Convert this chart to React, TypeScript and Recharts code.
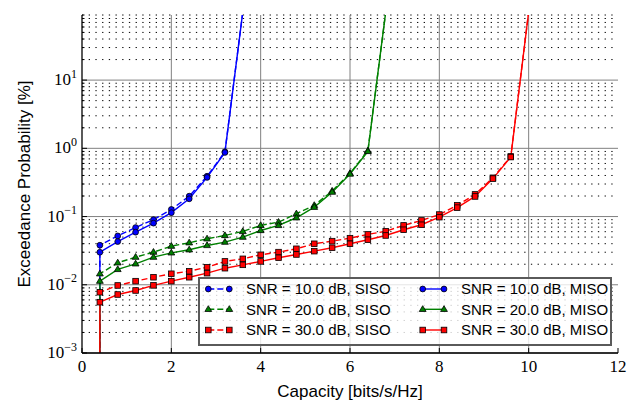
import React from 'react';
import { ComposedChart, Line, XAxis, YAxis, CartesianGrid, Legend } from 'recharts';

// Capacity grid [bits/s/Hz]
const capacity = [0, 0.4, 0.8, 1.2, 1.6, 2.0, 2.4, 2.8, 3.2, 3.6, 4.0, 4.4, 4.8, 5.2, 5.6, 6.0, 6.4, 6.8, 7.2, 7.6, 8.0, 8.4, 8.8, 9.2, 9.6, 10.0];

// Exceedance probability [%]
const sisoSnr10 = [0, 0.038, 0.052, 0.069, 0.09, 0.127, 0.199, 0.39, 0.89, 100];
const misoSnr10 = [0, 0.030, 0.043, 0.059, 0.080, 0.114, 0.182, 0.375, 0.87, 100];
const sisoSnr20 = [0, 0.0145, 0.021, 0.0254, 0.0301, 0.0368, 0.0413, 0.0472, 0.0528, 0.0605, 0.0741, 0.0828, 0.110, 0.146, 0.237, 0.43, 0.92, 100];
const misoSnr20 = [0, 0.0113, 0.0168, 0.0203, 0.0254, 0.0294, 0.0326, 0.0377, 0.0422, 0.0499, 0.0625, 0.0741, 0.096, 0.137, 0.228, 0.42, 0.90, 100];
const sisoSnr30 = [0, 0.00778, 0.00977, 0.0113, 0.0129, 0.0145, 0.0158, 0.0181, 0.0220, 0.0240, 0.0275, 0.0301, 0.0337, 0.0399, 0.0436, 0.0482, 0.0547, 0.061, 0.0741, 0.0877, 0.107, 0.146, 0.211, 0.37, 0.76, 100];
const misoSnr30 = [0, 0.00556, 0.0072, 0.00825, 0.0098, 0.0113, 0.0129, 0.0148, 0.0175, 0.0196, 0.0220, 0.0249, 0.0278, 0.0311, 0.0349, 0.0399, 0.0457, 0.0528, 0.064, 0.0758, 0.098, 0.135, 0.197, 0.36, 0.745, 100];

const seriesNames = [
  'SNR = 10.0 dB, SISO',
  'SNR = 20.0 dB, SISO',
  'SNR = 30.0 dB, SISO',
  'SNR = 10.0 dB, MISO',
  'SNR = 20.0 dB, MISO',
  'SNR = 30.0 dB, MISO',
];

const xTicks = [0, 2, 4, 6, 8, 10, 12];
const xGrid = [2, 4, 6, 8, 10];
const yMajorTicks = [0.001, 0.01, 0.1, 1, 10];
const yMinorTicks = [
  0.002, 0.003, 0.004, 0.005, 0.006, 0.007, 0.008, 0.009,
  0.02, 0.03, 0.04, 0.05, 0.06, 0.07, 0.08, 0.09,
  0.2, 0.3, 0.4, 0.5, 0.6, 0.7, 0.8, 0.9,
  2, 3, 4, 5, 6, 7, 8, 9,
  20, 30, 40, 50, 60, 70, 80, 90,
];
const yDomain = [0.001, 90];

const BLUE = '#0000ff';
const GREEN = '#008000';
const RED = '#ff0000';

// zero probability is clipped to a tiny positive value on the log axis (like matplotlib)
const FLOOR = 1e-300;
const val = (arr: number[], i: number) => (i < arr.length ? (arr[i] === 0 ? FLOOR : arr[i]) : null);

const data = capacity.map((c, i) => ({
  c,
  s10: val(sisoSnr10, i),
  m10: val(misoSnr10, i),
  s20: val(sisoSnr20, i),
  m20: val(misoSnr20, i),
  s30: val(sisoSnr30, i),
  m30: val(misoSnr30, i),
}));

const series = [
  { key: 's10', name: seriesNames[0], color: BLUE, shape: 'circle', dashed: true },
  { key: 's20', name: seriesNames[1], color: GREEN, shape: 'triangle', dashed: true },
  { key: 's30', name: seriesNames[2], color: RED, shape: 'square', dashed: true },
  { key: 'm10', name: seriesNames[3], color: BLUE, shape: 'circle', dashed: false },
  { key: 'm20', name: seriesNames[4], color: GREEN, shape: 'triangle', dashed: false },
  { key: 'm30', name: seriesNames[5], color: RED, shape: 'square', dashed: false },
];

const DASH = '6 3';

function Marker({ cx, cy, shape, color }: any) {
  if (shape === 'circle') {
    return <circle cx={cx} cy={cy} r={2.9} fill={color} stroke="#000" strokeWidth={0.8} />;
  }
  if (shape === 'triangle') {
    const s = 3.6;
    const pts = `${cx},${cy - s} ${cx - s * 0.95},${cy + s * 0.6} ${cx + s * 0.95},${cy + s * 0.6}`;
    return <polygon points={pts} fill={color} stroke="#000" strokeWidth={0.8} />;
  }
  const h = 2.8;
  return <rect x={cx - h} y={cy - h} width={2 * h} height={2 * h} fill={color} stroke="#000" strokeWidth={0.8} />;
}

const makeDot = (shape: string, color: string) => (p: any) => {
  const v = p.value;
  const ok = typeof v === 'number' && v >= yDomain[0] && v <= yDomain[1] && p.cx != null && p.cy != null;
  return (
    <g key={`dot-${p.index}`}>
      {ok ? <Marker cx={p.cx} cy={p.cy} shape={shape} color={color} /> : null}
    </g>
  );
};

const isMajor = (v: number) => yMajorTicks.some((m) => Math.abs(m - v) / m < 1e-6);
const SERIF = '"Liberation Serif", "DejaVu Serif", serif';
const SANS = '"Liberation Sans", Arial, sans-serif';

function XTickBottom(props: any) {
  const { x, y, payload } = props;
  return (
    <g>
      <line x1={x} x2={x} y1={y} y2={y - 5} stroke="#000" strokeWidth={1} />
      <text x={x} y={y + 19} textAnchor="middle" fontFamily={SERIF} fontSize={17} fill="#000">
        {payload.value}
      </text>
    </g>
  );
}

function XTickTop(props: any) {
  const { x, y } = props;
  return <line x1={x} x2={x} y1={y} y2={y + 5} stroke="#000" strokeWidth={1} />;
}

function YTickLeft(props: any) {
  const { x, y, payload } = props;
  const v = payload.value;
  const major = isMajor(v);
  const exp = Math.round(Math.log10(v));
  const expStr = exp < 0 ? `\u2212${Math.abs(exp)}` : `${exp}`;
  return (
    <g>
      <line x1={x} x2={x + (major ? 5 : 2.5)} y1={y} y2={y} stroke="#000" strokeWidth={1} />
      {major ? (
        <text x={x - 5} y={y + 5} textAnchor="end" fontFamily={SERIF} fontSize={17} fill="#000">
          10
          <tspan dy={-7.5} fontSize={12}>
            {expStr}
          </tspan>
        </text>
      ) : null}
    </g>
  );
}

function YTickRight(props: any) {
  const { x, y, payload } = props;
  const major = isMajor(payload.value);
  return <line x1={x} x2={x - (major ? 5 : 2.5)} y1={y} y2={y} stroke="#000" strokeWidth={1} />;
}

function XLabel(props: any) {
  const vb = props.viewBox || { x: 82, y: 353, width: 536, height: 48 };
  return (
    <text x={vb.x + vb.width / 2} y={vb.y + 44} textAnchor="middle" fontFamily={SANS} fontSize={17} fill="#000">
      Capacity [bits/s/Hz]
    </text>
  );
}

function YLabel(props: any) {
  const vb = props.viewBox || { x: 0, y: 15, width: 82, height: 338 };
  const cx = 29.5;
  const cy = vb.y + vb.height / 2;
  return (
    <text
      x={cx}
      y={cy}
      transform={`rotate(-90, ${cx}, ${cy})`}
      textAnchor="middle"
      fontFamily={SANS}
      fontSize={17}
      fill="#000"
    >
      Exceedance Probability [%]
    </text>
  );
}

function LegendContent() {
  const rows = [10, 30.3, 51];
  const cols = [
    { m1: 8.3, m2: 29.3, tx: 46 },
    { m1: 222.7, m2: 244, tx: 261 },
  ];
  return (
    <svg width={410} height={65} style={{ display: 'block' }}>
      {series.map((s, i) => {
        const col = cols[i < 3 ? 0 : 1];
        const cy = rows[i % 3];
        return (
          <g key={s.key}>
            <line
              x1={col.m1}
              x2={col.m2}
              y1={cy}
              y2={cy}
              stroke={s.color}
              strokeWidth={1.4}
              strokeDasharray={s.dashed ? DASH : undefined}
            />
            <Marker cx={col.m1} cy={cy} shape={s.shape} color={s.color} />
            <Marker cx={col.m2} cy={cy} shape={s.shape} color={s.color} />
            <text x={col.tx} y={cy + 5.4} fontFamily={SANS} fontSize={15} fill="#000">
              {s.name}
            </text>
          </g>
        );
      })}
    </svg>
  );
}

export default function App() {
  return (
    <div style={{ position: 'absolute', left: 0, top: 0, width: 627, height: 401, background: '#fff' }}>
      <ComposedChart width={627} height={401} data={data} margin={{ top: 15, right: 9, bottom: 0, left: 0 }}>
        <CartesianGrid horizontalValues={yMinorTicks} vertical={false} stroke="#000" strokeDasharray="1.3 5.4" strokeWidth={1} />
        <CartesianGrid horizontalValues={yMajorTicks} verticalValues={xGrid} stroke="#808080" strokeWidth={1} />
        <XAxis
          dataKey="c"
          type="number"
          domain={[0, 12]}
          ticks={xTicks}
          interval={0}
          height={48}
          axisLine={{ stroke: '#000', strokeWidth: 1.3 }}
          tickLine={false}
          tickSize={0}
          tickMargin={0}
          tick={<XTickBottom />}
          label={<XLabel />}
        />
        <XAxis
          xAxisId="top"
          orientation="top"
          dataKey="c"
          type="number"
          domain={[0, 12]}
          ticks={xTicks}
          interval={0}
          height={0}
          axisLine={{ stroke: '#000', strokeWidth: 1.3 }}
          tickLine={false}
          tickSize={0}
          tickMargin={0}
          tick={<XTickTop />}
        />
        <YAxis
          type="number"
          scale="log"
          domain={yDomain}
          allowDataOverflow
          ticks={[...yMajorTicks, ...yMinorTicks]}
          interval={0}
          width={82}
          axisLine={{ stroke: '#000', strokeWidth: 1.3 }}
          tickLine={false}
          tickSize={0}
          tickMargin={0}
          tick={<YTickLeft />}
          label={<YLabel />}
        />
        <YAxis
          yAxisId="right"
          orientation="right"
          type="number"
          scale="log"
          domain={yDomain}
          allowDataOverflow
          ticks={[...yMajorTicks, ...yMinorTicks]}
          interval={0}
          width={0}
          axisLine={{ stroke: '#000', strokeWidth: 1.3 }}
          tickLine={false}
          tickSize={0}
          tickMargin={0}
          tick={<YTickRight />}
        />
        {series.map((s) => (
          <Line
            key={s.key}
            dataKey={s.key}
            name={s.name}
            type="linear"
            stroke={s.color}
            strokeWidth={1.4}
            strokeDasharray={s.dashed ? DASH : undefined}
            dot={makeDot(s.shape, s.color)}
            activeDot={false}
            isAnimationActive={false}
            connectNulls={false}
          />
        ))}
        <Legend
          layout="vertical"
          align="center"
          verticalAlign="middle"
          content={<LegendContent />}
          wrapperStyle={{
            position: 'absolute',
            left: 198,
            top: 277,
            width: 414,
            height: 69,
            boxSizing: 'border-box',
            border: '2px solid #5a5a5a',
            background: 'rgba(255,255,255,0.8)',
            margin: 0,
            padding: 0,
          }}
        />
      </ComposedChart>
    </div>
  );
}
